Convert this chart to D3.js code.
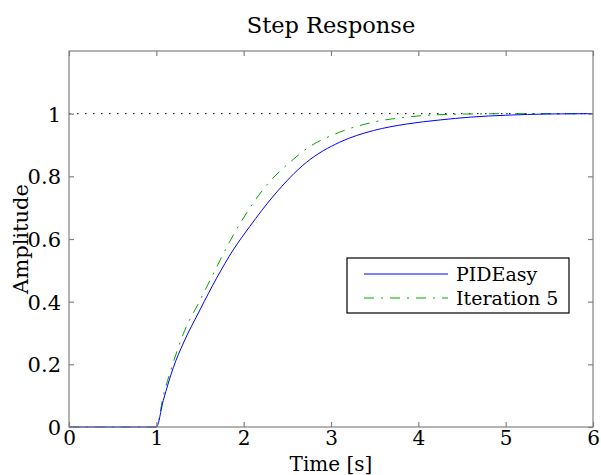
<!DOCTYPE html>
<html><head><meta charset="utf-8">
<script src="https://cdn.jsdelivr.net/npm/d3@7"></script>
<style>body{margin:0;background:#fff}svg{display:block}text{font-family:"DejaVu Serif",serif;fill:#000}</style>
</head><body>
<script>
const title = "Step Response";
const xLabel = "Time [s]";
const yLabel = "Amplitude";
const xTicks = [0,1,2,3,4,5,6];
const yTicks = [0,0.2,0.4,0.6,0.8,1];
const seriesNames = ["PIDEasy","Iteration 5"];
const pidT = [0,1,1.08,1.195,1.31,1.5,1.69,1.88,2.07,2.34,2.72,3.1,3.485,3.867,4.25,4.6,5,5.5,6];
const pidY = [0,0,0.085,0.19,0.268,0.374,0.475,0.565,0.64,0.737,0.845,0.909,0.946,0.967,0.98,0.989,0.995,0.999,1.0];
const itT = [0,1,1.08,1.176,1.31,1.5,1.69,1.806,1.958,2.26,2.53,2.72,3.1,3.485,3.867,4.17,4.6,5,6];
const itY = [0,0,0.1,0.19,0.298,0.404,0.51,0.574,0.649,0.771,0.845,0.888,0.941,0.973,0.989,0.996,0.999,1.0,1.0];
const refT = [0,6];
const refY = [1,1];

const W=601,H=475, m={l:69,r:8,t:51,b:48};
const svg=d3.select("body").append("svg").attr("width",W).attr("height",H);
const x=d3.scaleLinear().domain([0,6]).range([m.l,W-m.r]);
const y=d3.scaleLinear().domain([0,1.2]).range([H-m.b,m.t]);
const fs=21;
const FF='"DejaVu Serif",serif';

svg.append("text").attr("x",(m.l+W-m.r)/2).attr("y",33).attr("text-anchor","middle").attr("font-size",22.5).text(title);

const lineRef=d3.line().x(d=>x(d[0])).y(d=>y(d[1]));
svg.append("path").datum(refT.map((t,i)=>[t,refY[i]])).attr("d",lineRef).attr("fill","none").attr("stroke","#000").attr("stroke-width",1).attr("stroke-dasharray","1.5,6.5");

const line=d3.line().x(d=>x(d[0])).y(d=>y(d[1])).curve(d3.curveMonotoneX);
svg.append("path").datum(itT.map((t,i)=>[t,itY[i]])).attr("d",line).attr("fill","none").attr("stroke","#00a800").attr("stroke-width",1).attr("stroke-dasharray","10,7,2,7");
svg.append("path").datum(pidT.map((t,i)=>[t,pidY[i]])).attr("d",line).attr("fill","none").attr("stroke","#0000ff").attr("stroke-width",1);

const g=svg.append("g");
const axB=d3.axisBottom(x).tickValues(xTicks).tickSize(-5).tickPadding(3).tickFormat(d3.format("d"));
const axT=d3.axisTop(x).tickValues(xTicks).tickSize(-5).tickFormat("");
const axL=d3.axisLeft(y).tickValues(yTicks).tickSize(-5).tickPadding(8).tickFormat(d=>d===0||d===1?String(d):d3.format(".1f")(d));
const axR=d3.axisRight(y).tickValues(yTicks).tickSize(-5).tickFormat("");
function style(sel){sel.attr("font-family",FF);sel.selectAll("path,line").attr("stroke","#808080").attr("stroke-width",1.2);sel.selectAll("text").attr("font-size",fs).attr("fill","#000");}
g.append("g").attr("transform",`translate(0,${H-m.b})`).call(axB).call(style).call(s=>s.select(".domain").remove()).selectAll("text").attr("font-size",20).attr("dy","0.75em");
g.append("g").attr("transform",`translate(0,${m.t})`).call(axT).call(style).call(s=>s.select(".domain").remove());
g.append("g").attr("transform",`translate(${m.l},0)`).call(axL).call(style).call(s=>s.select(".domain").remove()).selectAll("text").attr("dy","0.35em");
g.append("g").attr("transform",`translate(${W-m.r},0)`).call(axR).call(style).call(s=>s.select(".domain").remove());
svg.append("rect").attr("x",m.l).attr("y",m.t).attr("width",W-m.r-m.l).attr("height",H-m.b-m.t).attr("fill","none").attr("stroke","#808080").attr("stroke-width",1.2);

svg.append("text").attr("x",(m.l+W-m.r)/2).attr("y",470.5).attr("text-anchor","middle").attr("font-size",20).text(xLabel);
svg.append("text").attr("transform",`translate(28,${(m.t+H-m.b)/2}) rotate(-90)`).attr("text-anchor","middle").attr("font-size",fs).text(yLabel);

const lg=svg.append("g");
lg.append("rect").attr("x",347).attr("y",258).attr("width",222).attr("height",55).attr("fill","#fff").attr("stroke","#000").attr("stroke-width",1.2);
const styles=[{c:"#0000ff",d:null},{c:"#00a800",d:"10,7,2,7"}];
seriesNames.forEach((n,i)=>{
  const yy=274+i*24;
  lg.append("line").attr("x1",364).attr("x2",448).attr("y1",yy).attr("y2",yy).attr("stroke",styles[i].c).attr("stroke-width",1).attr("stroke-dasharray",styles[i].d);
  lg.append("text").attr("x",456).attr("y",yy).attr("dy","0.35em").attr("font-size",19).text(n);
});
</script>
</body></html>
